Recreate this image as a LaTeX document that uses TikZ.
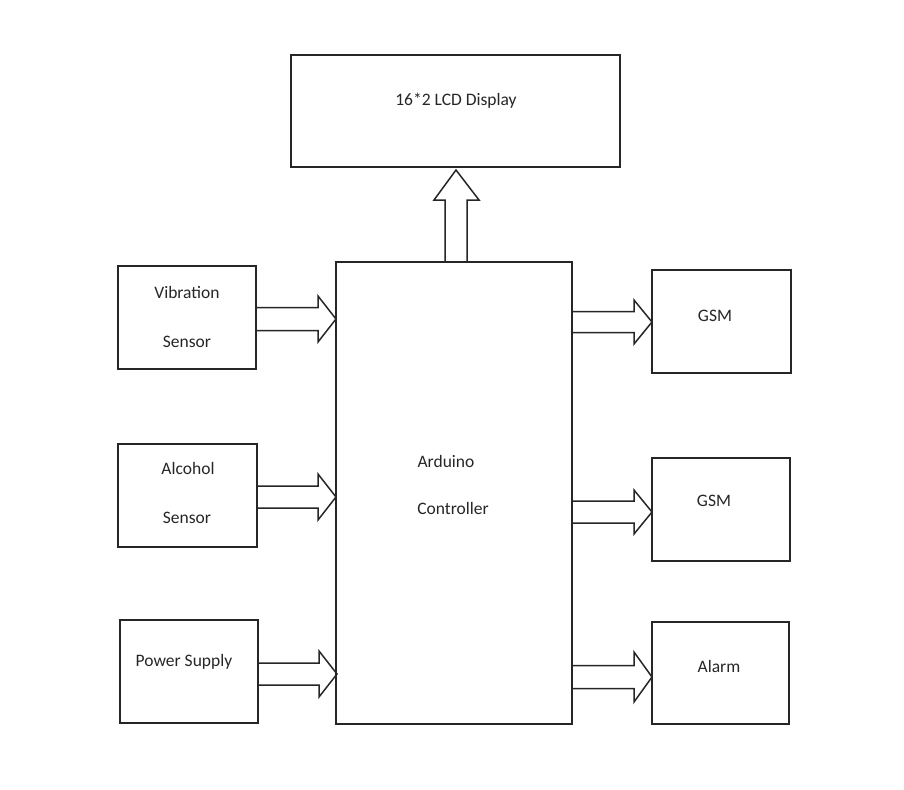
\documentclass[tikz,border=0pt]{standalone}
\usepackage{fontspec}
\setmainfont{Carlito}
\usetikzlibrary{calc}
\tikzset{
  box/.style={draw=black!85, line width=1.6pt, inner sep=0pt},
  lbl/.style={font=\fontsize{17.5}{20}\selectfont, text=black!85, inner sep=0pt},
  barrow/.style={draw=black!85, line width=1.5pt, fill=white, line join=miter},
}
% horizontal block arrow: from x1 to x2 at y, shaft half width, head half width, head length
\newcommand{\hbarrow}[6]{%
  \draw[barrow] (#1,#3-#4) -- (#2-#6,#3-#4) -- (#2-#6,#3-#5) -- (#2,#3) -- (#2-#6,#3+#5) -- (#2-#6,#3+#4) -- (#1,#3+#4);}
\begin{document}
\begin{tikzpicture}[x=1pt,y=-1pt]
\useasboundingbox (0,0) rectangle (904,789);
% vertical block arrow from Arduino to LCD
\draw[barrow] (445,262) -- (445,200) -- (434,200) -- (456,170) -- (479,200) -- (467,200) -- (467,262);
% horizontal block arrows
\hbarrow{256}{336}{319}{11.5}{23}{18}
\hbarrow{257}{336}{497}{11}{23}{18}
\hbarrow{258}{337}{674}{11}{23}{18}
\hbarrow{572}{652}{322}{10.5}{22}{18}
\hbarrow{572}{652}{512}{11}{22}{18}
\hbarrow{572}{652}{677}{11.5}{25}{18}
% boxes
\node[box, minimum width=329pt, minimum height=112pt] (lcd) at (455.5,111) {};
\node[box, minimum width=236pt, minimum height=462pt] (ard) at (454,493) {};
\node[box, minimum width=138pt, minimum height=103pt] (vib) at (187,317.5) {};
\node[box, minimum width=139pt, minimum height=103pt] (alc) at (187.5,495.5) {};
\node[box, minimum width=138pt, minimum height=103pt] (pwr) at (189,671.5) {};
\node[box, minimum width=139pt, minimum height=103pt] (gsma) at (721.5,321.5) {};
\node[box, minimum width=138pt, minimum height=103pt] (gsmb) at (721,509.5) {};
\node[box, minimum width=137pt, minimum height=102pt] (alarm) at (720.5,673) {};
% labels
\node[lbl] (tlcd) at (456,101) {16*2 LCD Display};
\node[lbl] (tard1) at (446,461) {Arduino};
\node[lbl] (tard2) at (453,508) {Controller};
\node[lbl] (tvib1) at (187,292) {Vibration};
\node[lbl] (tvib2) at (187,342) {Sensor};
\node[lbl] (talc1) at (188,468) {Alcohol};
\node[lbl] (talc2) at (187,518) {Sensor};
\node[lbl] (tpwr) at (184,662) {Power Supply};
\node[lbl] (tgsma) at (715,316) {GSM};
\node[lbl] (tgsmb) at (714,501) {GSM};
\node[lbl] (talarm) at (719,666) {Alarm};
\end{tikzpicture}
\end{document}
